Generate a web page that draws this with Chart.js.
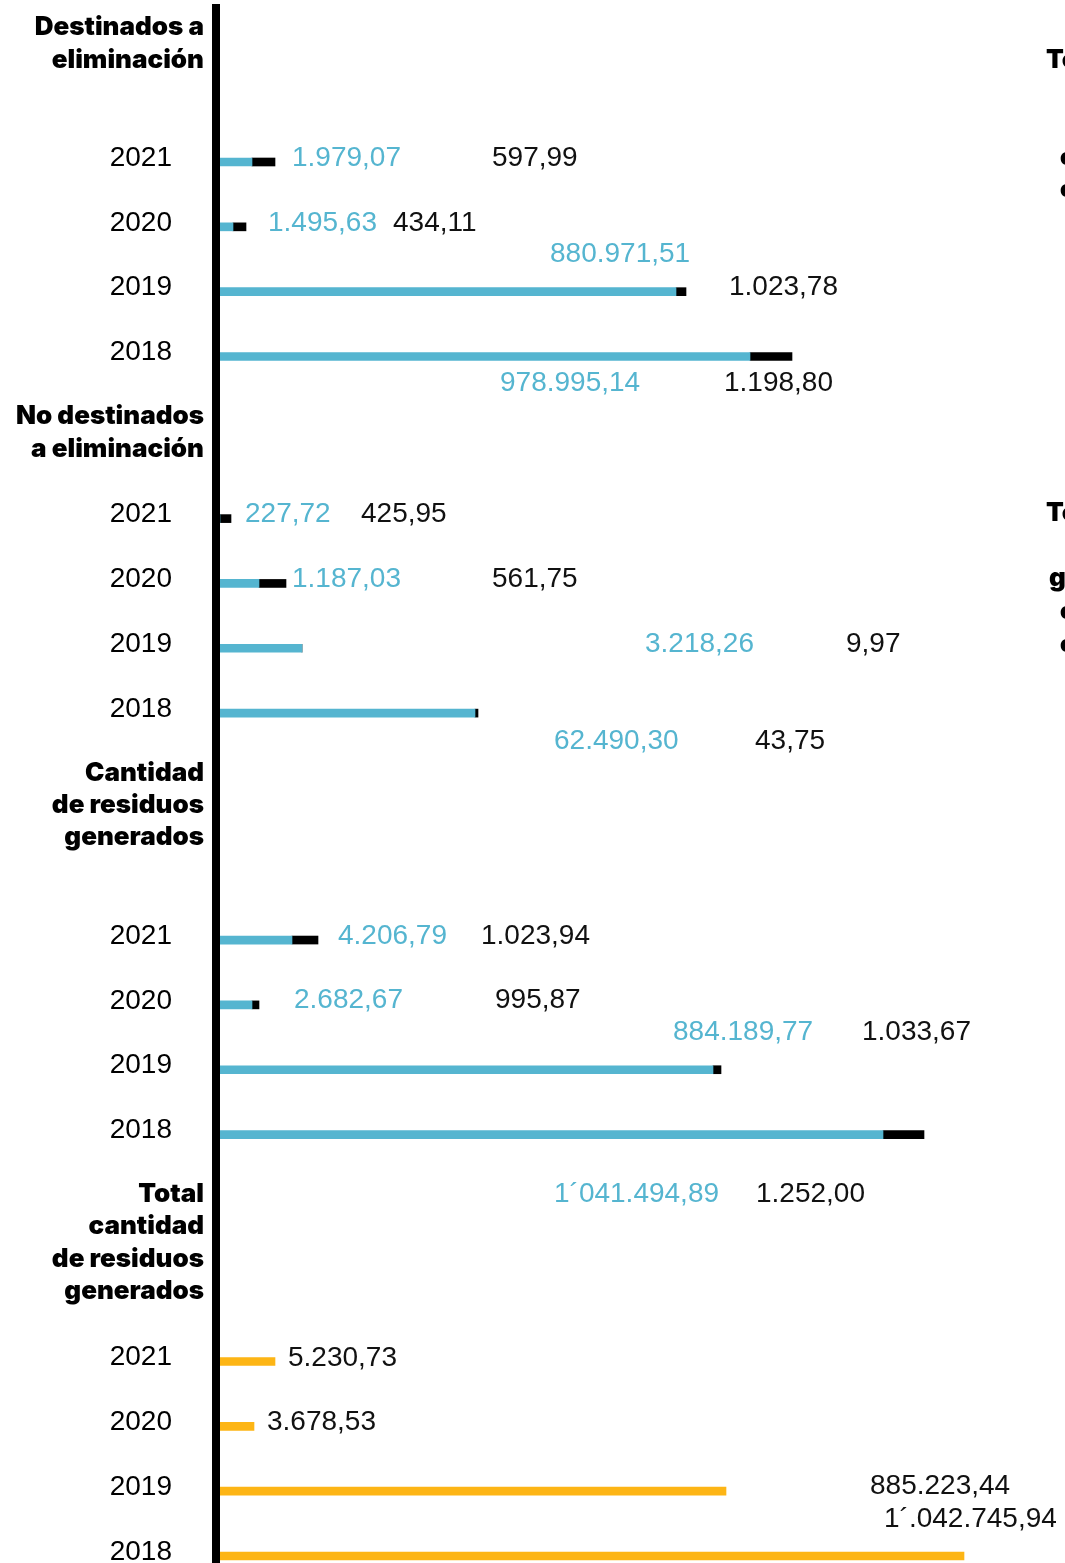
<!DOCTYPE html>
<html>
<head>
<meta charset="utf-8">
<script src="https://cdn.jsdelivr.net/npm/chart.js@4.4.1/dist/chart.umd.min.js"></script>
<style>
  html, body { margin:0; padding:0; background:#fff; overflow:hidden; }
  #wrap { width:1065px; height:1563px; }
</style>
</head>
<body>
<div id="wrap"><canvas id="chart" width="1065" height="1563"></canvas></div>
<script>
// years, top to bottom in every block
const years = ['2021', '2020', '2019', '2018'];

// block titles (left column)
const groupTitles = [
  ['Destinados a', 'eliminación'],
  ['No destinados', 'a eliminación'],
  ['Cantidad', 'de residuos', 'generados'],
  ['Total', 'cantidad', 'de residuos', 'generados']
];

// bar lengths as drawn - the infographic is not to scale with its printed figures
const elimBlue      = [32, 13, 456, 530];
const elimBlack     = [23, 13, 10, 42];
const noElimBlue    = [0, 39, 82, 255];
const noElimBlack   = [11, 27, 0, 3];
const generadosBlue = [72, 32, 493, 663];
const generadosBlack= [26, 7, 8, 41];
const totalOrange   = [55, 34, 506, 744];

// printed figures
const elimBlueTxt       = ['1.979,07', '1.495,63', '880.971,51', '978.995,14'];
const elimBlackTxt      = ['597,99', '434,11', '1.023,78', '1.198,80'];
const noElimBlueTxt     = ['227,72', '1.187,03', '3.218,26', '62.490,30'];
const noElimBlackTxt    = ['425,95', '561,75', '9,97', '43,75'];
const generadosBlueTxt  = ['4.206,79', '2.682,67', '884.189,77', '1´041.494,89'];
const generadosBlackTxt = ['1.023,94', '995,87', '1.033,67', '1.252,00'];
const totalTxt          = ['5.230,73', '3.678,53', '885.223,44', '1´.042.745,94'];

// layout ---------------------------------------------------------------
const BLUE = '#55b5d0', BLACK = '#000000', ORANGE = '#fdb515';
const NUM_FONT = '28px "Liberation Sans", Arial, sans-serif';
const HEAD_FONT = '900 26px Inter, "DejaVu Sans", sans-serif';
const groupStart = [0, 11, 24, 37];   // first slot of each block (a year row every 2 slots)
const SLOTS = 44;
const titleY = [[27, 60], [416, 449], [773, 805, 837], [1194, 1226, 1259, 1291]];
// [x, dy] of each printed figure relative to its bar row
const blueLabelPos = [
  [[292,-4],[268,-4],[550,-37],[500,27]],
  [[245,-4],[292,-4],[645,-4],[554,28]],
  [[338,-4],[294,-5],[673,-37],[554,60]]
];
const blackLabelPos = [
  [[492,-4],[393,-4],[729,-4],[724,27]],
  [[361,-4],[492,-4],[846,-4],[755,28]],
  [[481,-4],[495,-5],[862,-37],[756,60]],
  [[288,-3],[267,-4],[870,-5],[884,-37]]
];

// build slot table
const slotLabels = Array(SLOTS).fill('');
function slotSeries(perGroup){
  const arr = Array(SLOTS).fill(null);
  perGroup.forEach((vals, g) => {
    if(!vals) return;
    vals.forEach((v, i) => { arr[groupStart[g] + i*2] = v; });
  });
  return arr;
}
groupStart.forEach(s => years.forEach((y, i) => { slotLabels[s + i*2] = y; }));

const blueData   = slotSeries([elimBlue, noElimBlue, generadosBlue, null]);
const blackData  = slotSeries([elimBlack, noElimBlack, generadosBlack, null]);
const orangeData = slotSeries([null, null, null, totalOrange]);

const blueTexts  = [elimBlueTxt, noElimBlueTxt, generadosBlueTxt];
const blackTexts = [elimBlackTxt, noElimBlackTxt, generadosBlackTxt, totalTxt];

const decor = {
  id: 'decor',
  afterDatasetsDraw(chart){
    const ctx = chart.ctx;
    const ys = chart.scales.y;
    ctx.save();
    // vertical axis rule
    ctx.fillStyle = BLACK;
    ctx.fillRect(212, 4, 8, chart.height);

    // block titles
    ctx.font = HEAD_FONT;
    ctx.textAlign = 'right';
    ctx.textBaseline = 'middle';
    groupTitles.forEach((lines, g) => lines.forEach((t, k) => ctx.fillText(t, 204, titleY[g][k])));

    // years
    ctx.font = NUM_FONT;
    groupStart.forEach(s => years.forEach((y, i) => {
      ctx.fillText(y, 172, ys.getPixelForValue(s + i*2) - 4);
    }));

    // printed figures
    ctx.textAlign = 'left';
    blueTexts.forEach((arr, g) => arr.forEach((t, i) => {
      const p = blueLabelPos[g][i];
      ctx.fillStyle = BLUE;
      ctx.fillText(t, p[0], ys.getPixelForValue(groupStart[g] + i*2) + p[1]);
    }));
    blackTexts.forEach((arr, g) => arr.forEach((t, i) => {
      const p = blackLabelPos[g][i];
      ctx.fillStyle = '#111';
      ctx.fillText(t, p[0], ys.getPixelForValue(groupStart[g] + i*2) + p[1]);
    }));

    // titles of the neighbouring panel, cut by the page edge
    ctx.fillStyle = BLACK;
    ctx.font = HEAD_FONT;
    ctx.fillText('Total', 1046, 60);
    ctx.fillText('Total', 1046, 513);
    ctx.fillText('generados', 1049, 578);
    ctx.font = '900 23px Inter, "DejaVu Sans", sans-serif';
    ctx.fillText('cantidad', 1060, 158);
    ctx.fillText('cantidad', 1060, 190);
    ctx.fillText('cantidad', 1060, 612);
    ctx.fillText('cantidad', 1060, 645);
    ctx.restore();
  }
};

new Chart(document.getElementById('chart'), {
  type: 'bar',
  data: {
    labels: slotLabels,
    datasets: [
      { label: 'azul', data: blueData, backgroundColor: BLUE, barThickness: 8, clip: false },
      { label: 'negro', data: blackData, backgroundColor: BLACK, barThickness: 8, clip: false },
      { label: 'total', data: orangeData, backgroundColor: ORANGE, barThickness: 8, clip: false }
    ]
  },
  options: {
    indexAxis: 'y',
    responsive: false,
    animation: false,
    devicePixelRatio: 1,
    layout: { padding: { left: 220, right: 0, top: 162, bottom: 7 } },
    scales: {
      x: { stacked: true, display: false, min: 0, max: 845 },
      y: { stacked: true, display: false, offset: false }
    },
    plugins: { legend: { display: false }, tooltip: { enabled: false } }
  },
  plugins: [decor]
});
</script>
</body>
</html>
